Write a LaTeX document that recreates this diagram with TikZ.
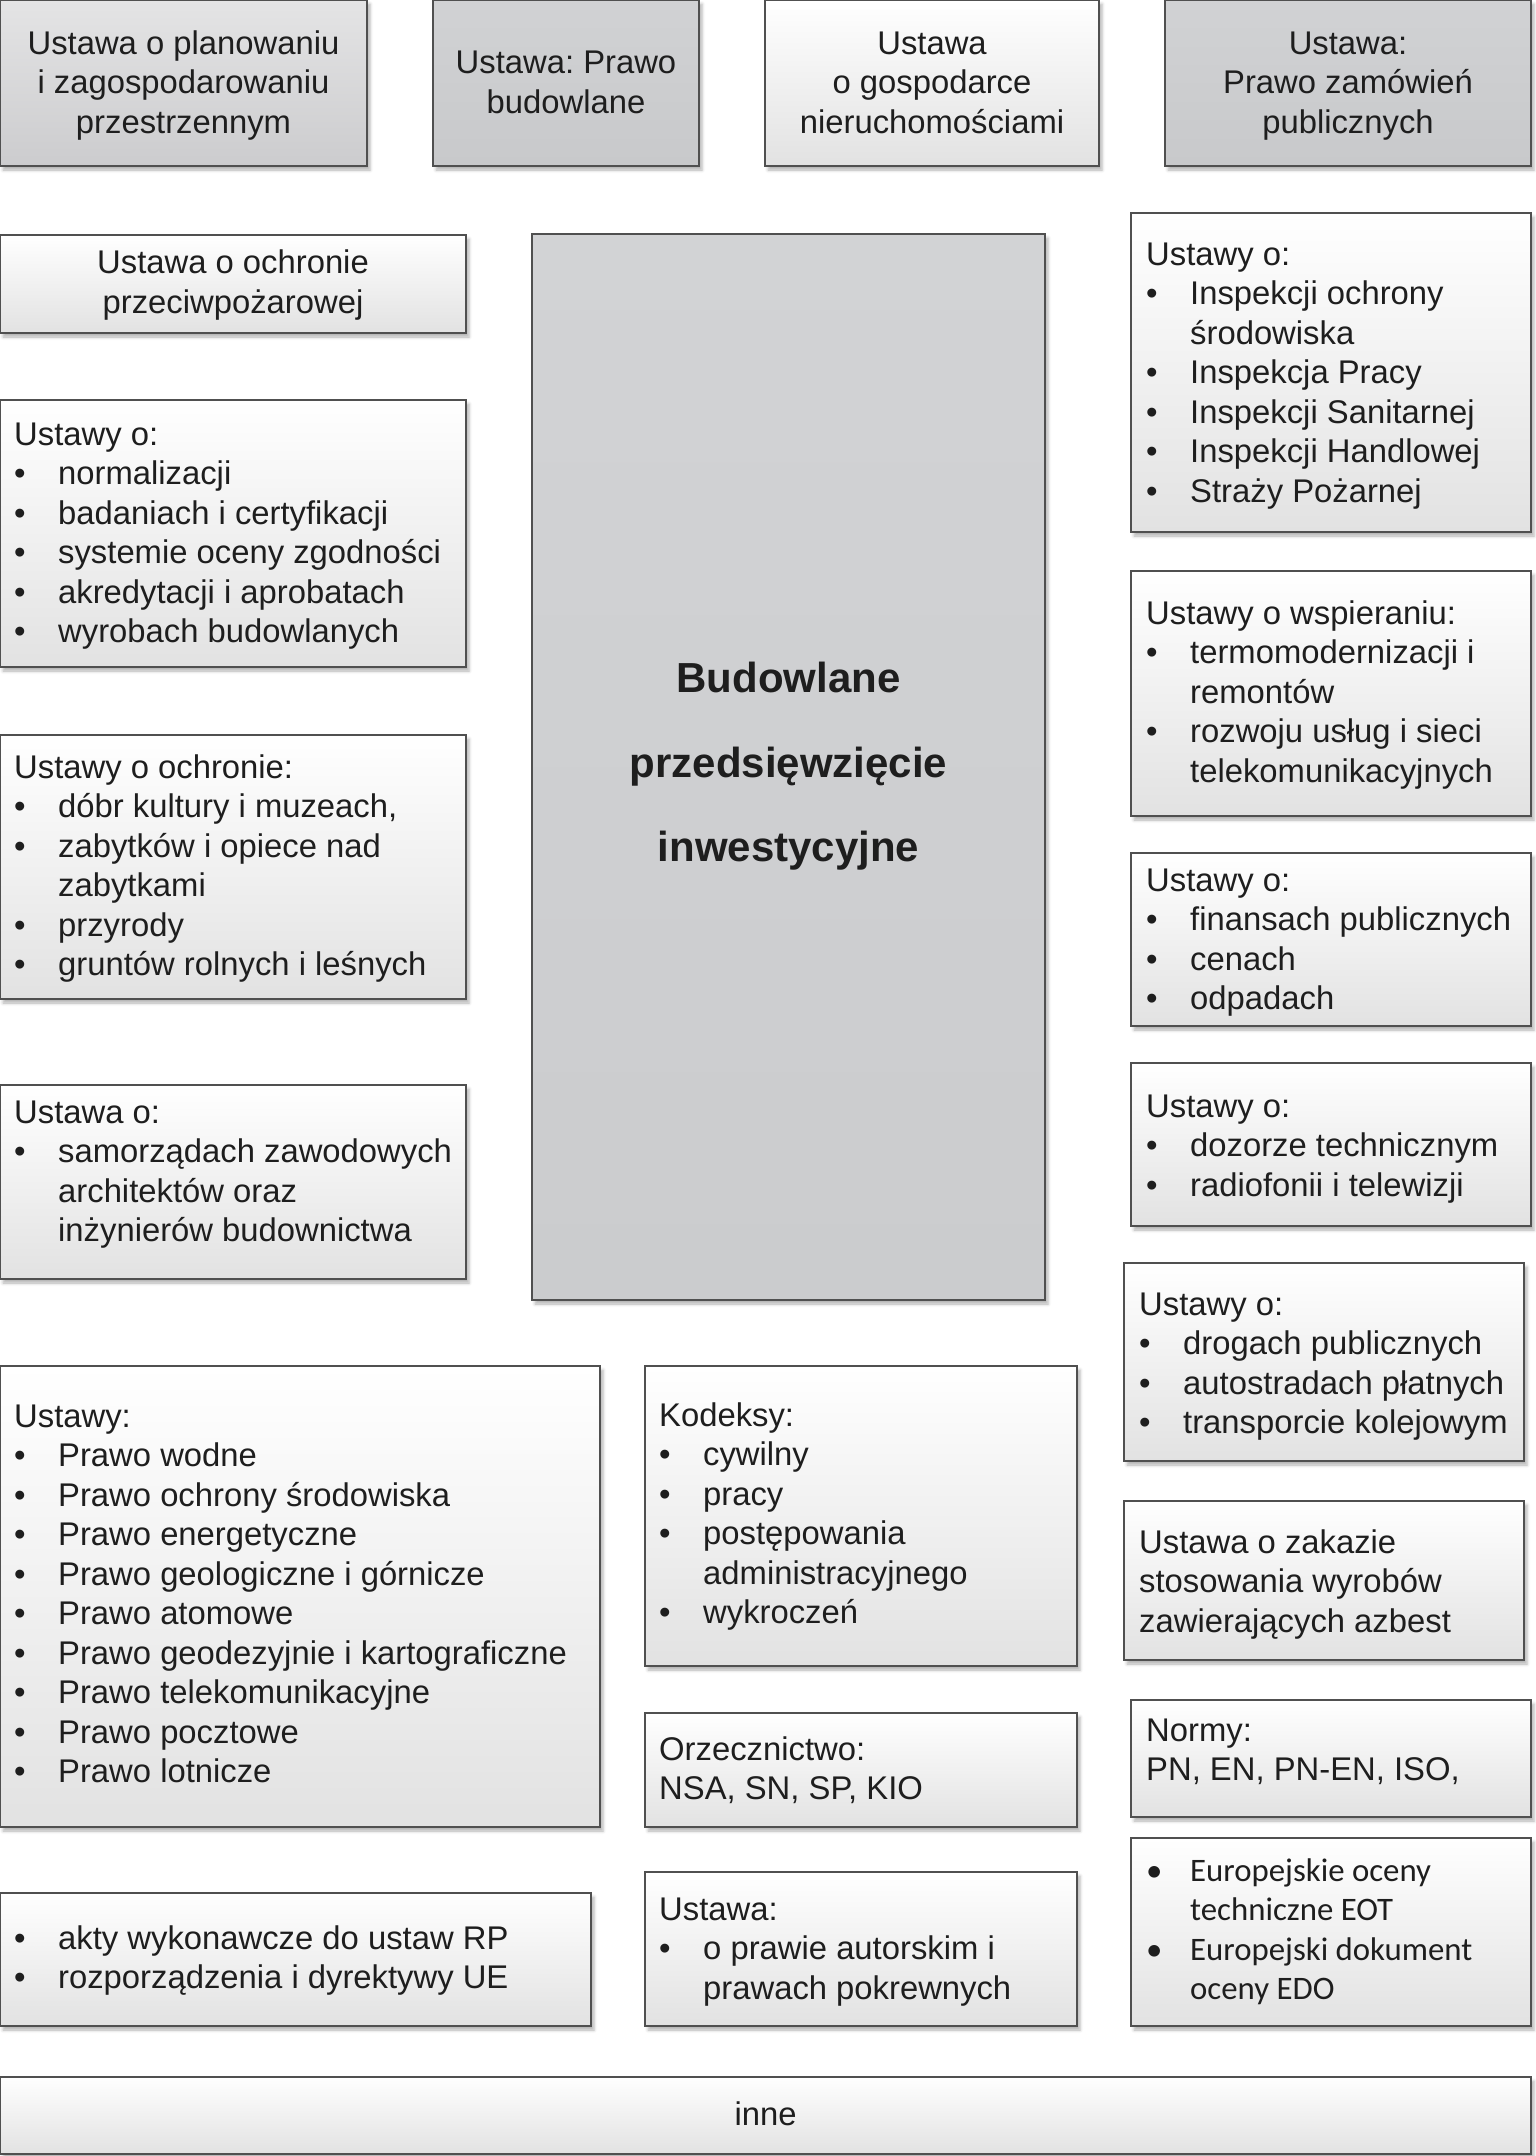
\documentclass[tikz,border=0pt]{standalone}
\usepackage{fontspec}
\setmainfont{Liberation Sans}
\newfontfamily\carl{Carlito}
\usetikzlibrary{shadows.blur}
\definecolor{bord}{HTML}{505050}
\definecolor{txtc}{HTML}{1E1E1E}
\definecolor{gtop}{HTML}{D1D2D4}
\definecolor{gbot}{HTML}{C8C9CB}
\definecolor{ctop}{HTML}{D2D3D5}
\definecolor{cbot}{HTML}{CBCCCE}
\definecolor{ltop}{HTML}{E4E4E5}
\definecolor{lbot}{HTML}{CCCCCE}
\definecolor{wbot}{HTML}{E2E2E2}
\frenchspacing
\tikzset{
  boxbase/.style={draw=bord, line width=1.6pt, anchor=north west, inner sep=0pt, outer sep=0pt,
    blur shadow={shadow xshift=3pt, shadow yshift=-4pt, shadow blur radius=3pt, shadow opacity=30}},
  wbox/.style={boxbase, top color=white, bottom color=wbot},
  gbox/.style={boxbase, top color=gtop, bottom color=gbot},
  cbox/.style={boxbase, top color=ctop, bottom color=cbot},
  lbox/.style={boxbase, top color=ltop, bottom color=lbot},
  ltxt/.style={text=txtc, font=\fontsize{32.8}{39.5}\selectfont, inner sep=0pt, align=left, anchor=north west},
  ctxt/.style={text=txtc, font=\fontsize{32.8}{39.5}\selectfont, inner sep=0pt, align=center, anchor=center},
  btxt/.style={text=txtc, font=\fontsize{42}{84.5}\selectfont\bfseries, inner sep=0pt, align=center, anchor=north},
}
\newcommand\bx[6]{\node[#1, minimum width={#5pt-#3pt}, minimum height={#6pt-#4pt}] (#2) at (#3,#4) {};}
\newcommand\sst{\rule[-9pt]{0pt}{37pt}}
\newcommand\bst{\rule[-12pt]{0pt}{42pt}}
\newcommand\bl[1]{\sst\makebox[44pt][l]{•}#1}
\newcommand\cl[1]{\sst\hspace*{44pt}#1}
\begin{document}
\begin{tikzpicture}[x=1pt,y=-1pt]
\useasboundingbox (0,0) rectangle (1535,2156);
% top row
\bx{lbox}{b1}{0}{0}{367}{166}
\bx{gbox}{b2}{433}{0}{699}{166}
\bx{wbox}{b3}{765}{0}{1099}{166}
\bx{gbox}{b4}{1165}{0}{1531}{166}
\node[ctxt] (b1t) at (183.5,84) {\sst Ustawa o planowaniu\\\sst i zagospodarowaniu\\\sst przestrzennym};
\node[ctxt] (b2t) at (566,84) {\sst Ustawa: Prawo\\\sst budowlane};
\node[ctxt] (b3t) at (932,84) {\sst Ustawa\\\sst o gospodarce\\\sst nieruchomościami};
\node[ctxt] (b4t) at (1348,84) {\sst Ustawa:\\\sst Prawo zamówień\\\sst publicznych};
% left column
\bx{wbox}{b5}{0}{235}{466}{333}
\node[ctxt] (b5t) at (233,284) {\sst Ustawa o ochronie\\\sst przeciwpożarowej};
\bx{wbox}{b6}{0}{400}{466}{667}
\node[ltxt] (b6t) at (14,417) {\sst Ustawy o:\\\bl{normalizacji}\\\bl{badaniach i certyfikacji}\\\bl{systemie oceny zgodności}\\\bl{akredytacji i aprobatach}\\\bl{wyrobach budowlanych}};
\bx{wbox}{b7}{0}{735}{466}{999}
\node[ltxt] (b7t) at (14,750) {\sst Ustawy o ochronie:\\\bl{dóbr kultury i muzeach,}\\\bl{zabytków i opiece nad}\\\cl{zabytkami}\\\bl{przyrody}\\\bl{gruntów rolnych i leśnych}};
\bx{wbox}{b8}{0}{1085}{466}{1279}
\node[ltxt] (b8t) at (14,1095) {\sst Ustawa o:\\\bl{samorządach zawodowych}\\\cl{architektów oraz}\\\cl{inżynierów budownictwa}};
% centre
\bx{cbox}{b9}{532}{234}{1045}{1300}
\node[btxt] (b9t) at (788.5,662) {\bst Budowlane\\\bst przedsięwzięcie\\\bst inwestycyjne};
% right column
\bx{wbox}{b10}{1131}{213}{1531}{532}
\node[ltxt] (b10t) at (1146,237) {\sst Ustawy o:\\\bl{Inspekcji ochrony}\\\cl{środowiska}\\\bl{Inspekcja Pracy}\\\bl{Inspekcji Sanitarnej}\\\bl{Inspekcji Handlowej}\\\bl{Straży Pożarnej}};
\bx{wbox}{b11}{1131}{571}{1531}{816}
\node[ltxt] (b11t) at (1146,596) {\sst Ustawy o wspieraniu:\\\bl{termomodernizacji i}\\\cl{remontów}\\\bl{rozwoju usług i sieci}\\\cl{telekomunikacyjnych}};
\bx{wbox}{b12}{1131}{853}{1531}{1026}
\node[ltxt] (b12t) at (1146,863) {\sst Ustawy o:\\\bl{finansach publicznych}\\\bl{cenach}\\\bl{odpadach}};
\bx{wbox}{b13}{1131}{1063}{1531}{1226}
\node[ltxt] (b13t) at (1146,1089) {\sst Ustawy o:\\\bl{dozorze technicznym}\\\bl{radiofonii i telewizji}};
\bx{wbox}{b14}{1124}{1263}{1524}{1461}
\node[ltxt] (b14t) at (1139,1287) {\sst Ustawy o:\\\bl{drogach publicznych}\\\bl{autostradach płatnych}\\\bl{transporcie kolejowym}};
\bx{wbox}{b15}{1124}{1501}{1524}{1660}
\node[ltxt] (b15t) at (1139,1525) {\sst Ustawa o zakazie\\\sst stosowania wyrobów\\\sst zawierających azbest};
\bx{wbox}{b16}{1131}{1700}{1531}{1817}
\node[ltxt] (b16t) at (1146,1713) {\sst Normy:\\\sst PN, EN, PN-EN, ISO,};
\bx{wbox}{b17}{1131}{1838}{1531}{2026}
\node[ltxt, font=\fontsize{32.8}{39.5}\selectfont\carl] (b17t) at (1146,1853) {\bl{Europejskie oceny}\\\cl{techniczne EOT}\\\bl{Europejski dokument}\\\cl{oceny EDO}};
% bottom
\bx{wbox}{b18}{0}{1366}{600}{1827}
\node[ltxt] (b18t) at (14,1399) {\sst Ustawy:\\\bl{Prawo wodne}\\\bl{Prawo ochrony środowiska}\\\bl{Prawo energetyczne}\\\bl{Prawo geologiczne i górnicze}\\\bl{Prawo atomowe}\\\bl{Prawo geodezyjnie i kartograficzne}\\\bl{Prawo telekomunikacyjne}\\\bl{Prawo pocztowe}\\\bl{Prawo lotnicze}};
\bx{wbox}{b19}{645}{1366}{1077}{1666}
\node[ltxt] (b19t) at (659,1398) {\sst Kodeksy:\\\bl{cywilny}\\\bl{pracy}\\\bl{postępowania}\\\cl{administracyjnego}\\\bl{wykroczeń}};
\bx{wbox}{b20}{645}{1713}{1077}{1827}
\node[ltxt] (b20t) at (659,1732) {\sst Orzecznictwo:\\\sst NSA, SN, SP, KIO};
\bx{wbox}{b21}{0}{1893}{591}{2026}
\node[ltxt] (b21t) at (14,1921) {\bl{akty wykonawcze do ustaw RP}\\\bl{rozporządzenia i dyrektywy UE}};
\bx{wbox}{b22}{645}{1872}{1077}{2026}
\node[ltxt] (b22t) at (659,1892) {\sst Ustawa:\\\bl{o prawie autorskim i}\\\cl{prawach pokrewnych}};
\bx{wbox}{b23}{0}{2077}{1531}{2154}
\node[ctxt] (b23t) at (765.5,2115.5) {\sst inne};
\end{tikzpicture}
\end{document}
